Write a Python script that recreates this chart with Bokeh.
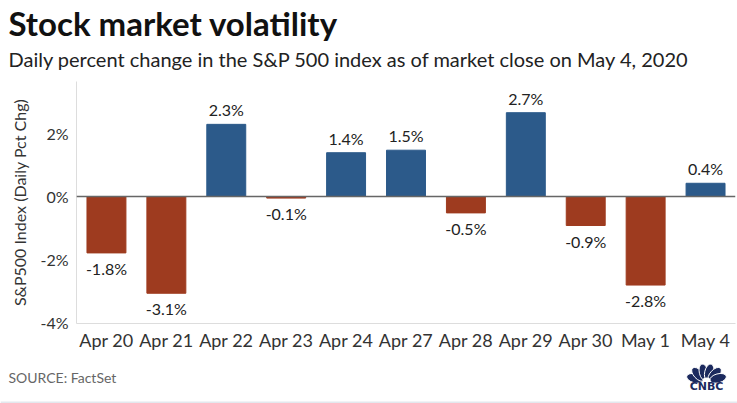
from bokeh.plotting import figure
from bokeh.models import ColumnDataSource, Span, FixedTicker, Range1d, FactorRange
from bokeh.layouts import column
from bokeh.core.properties import value
from bokeh.embed import file_html
from bokeh.resources import INLINE
import math

# ---- data ----
dates = ["Apr 20", "Apr 21", "Apr 22", "Apr 23", "Apr 24", "Apr 27",
         "Apr 28", "Apr 29", "Apr 30", "May 1", "May 4"]
changes = [-1.79, -3.07, 2.29, -0.05, 1.39, 1.47, -0.52, 2.66, -0.92, -2.81, 0.42]
value_labels = ["-1.8%", "-3.1%", "2.3%", "-0.1%", "1.4%", "1.5%",
                "-0.5%", "2.7%", "-0.9%", "-2.8%", "0.4%"]
y_ticks = [-4, -2, 0, 2]
y_tick_labels = ["-4%", "-2%", "0%", "2%"]

TITLE = "Stock market volatility"
SUBTITLE = "Daily percent change in the S&P 500 index as of market close on May 4, 2020"
Y_LABEL = "S&P500 Index (Daily Pct Chg)"
SOURCE = "SOURCE: FactSet"

# ---- style ----
W = 737
FONT = "Lato"
RED = "#9e3b1f"
BLUE = "#2c5a8a"
NAVY = "#1c2a5e"
TXT = "#333333"


def strip(h):
    f = figure(width=W, height=h, x_range=Range1d(0, W), y_range=Range1d(0, h),
               toolbar_location=None, output_backend="svg",
               x_axis_type=None, y_axis_type=None, min_border=0,
               outline_line_color=None, frame_align=False)
    f.grid.visible = False
    return f


# ---- header ----
TOP_H = 74
top = strip(TOP_H)
top.text(x=[8], y=[TOP_H - 22], text=[TITLE], text_font=value(FONT),
         text_font_size="33px", text_font_style="bold",
         text_baseline="middle", text_color="#111111")
top.text(x=[8], y=[TOP_H - 58], text=[SUBTITLE], text_font=value(FONT),
         text_font_size="20px", text_baseline="middle", text_color="#222222")

# ---- main chart ----
colors = [BLUE if c >= 0 else RED for c in changes]
src = ColumnDataSource(dict(date=dates, change=changes, color=colors))

p = figure(width=W, height=279, x_range=FactorRange(factors=dates, range_padding=0),
           y_range=Range1d(-4.03, 3.65), toolbar_location=None, output_backend="svg",
           min_border_left=76, min_border_right=2, min_border_top=7,
           min_border_bottom=30, outline_line_color=None, frame_align=False)
p.grid.visible = False

p.vbar(x="date", top="change", bottom=0, width=0.65, color="color", source=src)

pos = [i for i, c in enumerate(changes) if c >= 0]
neg = [i for i, c in enumerate(changes) if c < 0]
p.text(x=[dates[i] for i in pos], y=[changes[i] for i in pos],
       text=[value_labels[i] for i in pos], text_font=value(FONT),
       text_font_size="16px", text_align="center", text_baseline="bottom",
       y_offset=-5, text_color="#222222")
p.text(x=[dates[i] for i in neg], y=[changes[i] for i in neg],
       text=[value_labels[i] for i in neg], text_font=value(FONT),
       text_font_size="16px", text_align="center", text_baseline="top",
       y_offset=6, text_color="#222222")

p.add_layout(Span(location=0, dimension="width", line_color="#666666", line_width=1.5))

ya = p.yaxis[0]
ya.ticker = FixedTicker(ticks=y_ticks)
ya.major_label_overrides = {t: l for t, l in zip(y_ticks, y_tick_labels)}
ya.axis_line_color = "#dddddd"
ya.major_tick_line_color = None
ya.minor_tick_line_color = None
ya.major_tick_out = 0
ya.major_tick_in = 0
ya.major_label_standoff = 8
ya.major_label_text_font = FONT
ya.major_label_text_font_size = "16px"
ya.major_label_text_color = TXT
ya.axis_label = Y_LABEL
ya.axis_label_text_font = FONT
ya.axis_label_text_font_size = "16px"
ya.axis_label_text_font_style = "normal"
ya.axis_label_text_color = TXT
ya.axis_label_standoff = 8

xa = p.xaxis[0]
xa.axis_line_color = "#dddddd"
xa.major_tick_line_color = None
xa.minor_tick_line_color = None
xa.major_tick_out = 0
xa.major_tick_in = 0
xa.major_label_standoff = 5
xa.major_label_text_font = FONT
xa.major_label_text_font_size = "18px"
xa.major_label_text_color = TXT

# ---- footer ----
BOT_H = 50
bot = strip(BOT_H)
bot.text(x=[8], y=[26], text=[SOURCE], text_font=value(FONT),
         text_font_size="14px", text_baseline="middle", text_color="#666666")
bot.quad(left=[0], right=[W], bottom=[0], top=[2], fill_color="#e3e8ee", line_color=None)

# CNBC peacock logo (decoration)
bx, by = 706, 23
angles = [165, 133, 103, 77, 47, 15]
d = 12
fx = [bx + d * math.cos(math.radians(a)) for a in angles]
fy = [by + d * 0.7 * math.sin(math.radians(a)) for a in angles]
bot.ellipse(x=fx, y=fy, width=17, height=9,
            angle=[math.radians(a) for a in angles],
            fill_color=NAVY, line_color="white", line_width=1)
bot.ellipse(x=[bx], y=[by], width=8, height=6, fill_color="white", line_color=None)
bot.text(x=[bx], y=[17], text=["CNBC"], text_font=value("DejaVu Sans"),
         text_font_size="11px", text_font_style="bold", text_align="center",
         text_baseline="middle", text_color=NAVY)

layout = column(top, p, bot, spacing=0)
open("out.html", "w").write(file_html(layout, INLINE))
